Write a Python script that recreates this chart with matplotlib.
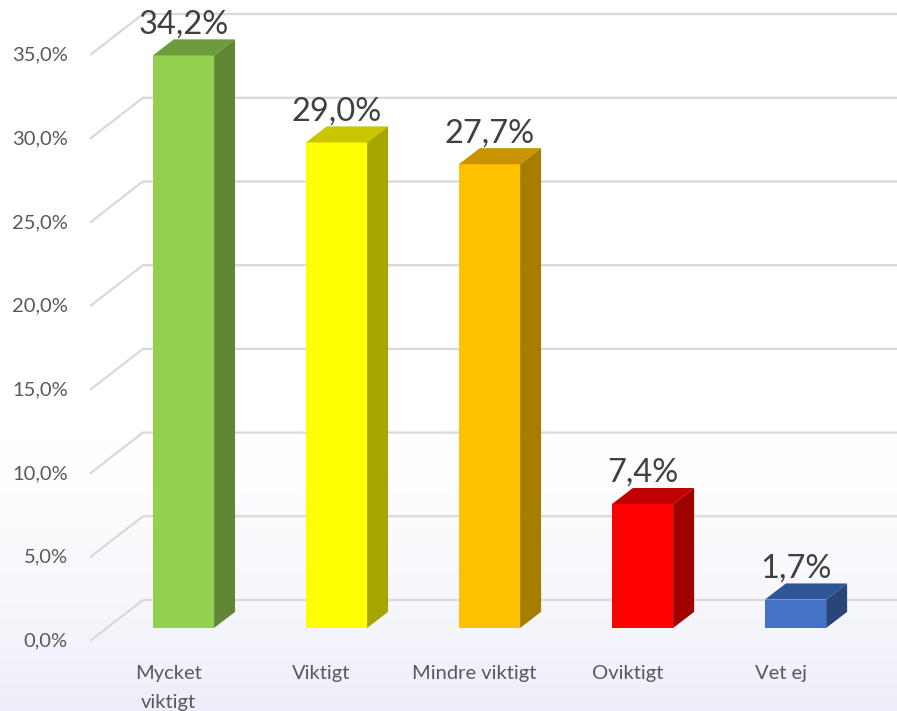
import numpy as np
import matplotlib.pyplot as plt
from matplotlib.patches import Polygon

plt.rcParams['font.family'] = ['Lato', 'DejaVu Sans']

# Data
categories = ['Mycket\nviktigt', 'Viktigt', 'Mindre viktigt', 'Oviktigt', 'Vet ej']
values = [34.2, 29.0, 27.7, 7.4, 1.7]
value_labels = ['34,2%', '29,0%', '27,7%', '7,4%', '1,7%']
ticks = [0, 5, 10, 15, 20, 25, 30, 35]
tick_labels = ['0,0%', '5,0%', '10,0%', '15,0%', '20,0%', '25,0%', '30,0%', '35,0%']

front_colors = ['#92D050', '#FFFF00', '#FFC000', '#FF0000', '#4472C4']
top_colors = ['#6E9C3C', '#C9C600', '#C99400', '#C00000', '#2F5597']
side_colors = ['#5F8734', '#A6A600', '#A67D00', '#A00000', '#2A4678']

# 3D look (data units: x = category, y = percent)
bar_w = 0.40
dx, dy = 0.137, 0.96           # bar depth
xf, yf = -0.611, -0.78         # front plane corner (left wall)
xb, yb = -0.265, 1.67          # back wall corner

fig = plt.figure(figsize=(8.97, 7.11), dpi=100)
ax = fig.add_axes([0, 0, 1, 1])
x0, x1 = -1.199, 4.663
y0, y1 = -4.96, 37.51
ax.set_xlim(x0, x1)
ax.set_ylim(y0, y1)
ax.axis('off')

# background gradient (white at top, faint lavender at bottom)
grad = np.ones((256, 1, 3))
t = np.linspace(0, 1, 256)
k = np.clip((t - 0.62) / 0.38, 0, 1) ** 1.3
base = np.array([238, 238, 250]) / 255
for c in range(3):
    grad[:, 0, c] = 1 - k * (1 - base[c])
ax.imshow(grad, extent=[0, 1, 0, 1], transform=ax.transAxes, aspect='auto', zorder=0)

# gridlines
for tk, lab in zip(ticks, tick_labels):
    ax.plot([xf, xb, x1], [tk + yf, tk + yb, tk + yb], color='#D9D9D9', lw=1.6,
            zorder=1, solid_capstyle='butt')
    ax.text(-0.755, tk + yf, lab, ha='right', va='center', fontsize=14.5, color='#595959')

# bars
xs = np.arange(len(categories))
ax.bar(xs, values, width=bar_w, color=front_colors, zorder=3, edgecolor='none')
for i, v in enumerate(values):
    l, r = xs[i] - bar_w / 2, xs[i] + bar_w / 2
    top = Polygon([(l, v), (r, v), (r + dx, v + dy), (l + dx, v + dy)],
                  closed=True, facecolor=top_colors[i], edgecolor='none', zorder=3)
    side = Polygon([(r, 0), (r + dx, dy), (r + dx, v + dy), (r, v)],
                   closed=True, facecolor=side_colors[i], edgecolor='none', zorder=3)
    ax.add_patch(top)
    ax.add_patch(side)
    ax.text(xs[i], v + dy + 0.36, value_labels[i], ha='center', va='baseline',
            fontsize=23.5, color='#404040', zorder=4)

for i, cat in enumerate(categories):
    ax.text(xs[i] - 0.098, -2.2, cat, ha='center', va='top', fontsize=14.5,
            color='#595959', linespacing=1.9)

fig.savefig('out.png', dpi=100)
